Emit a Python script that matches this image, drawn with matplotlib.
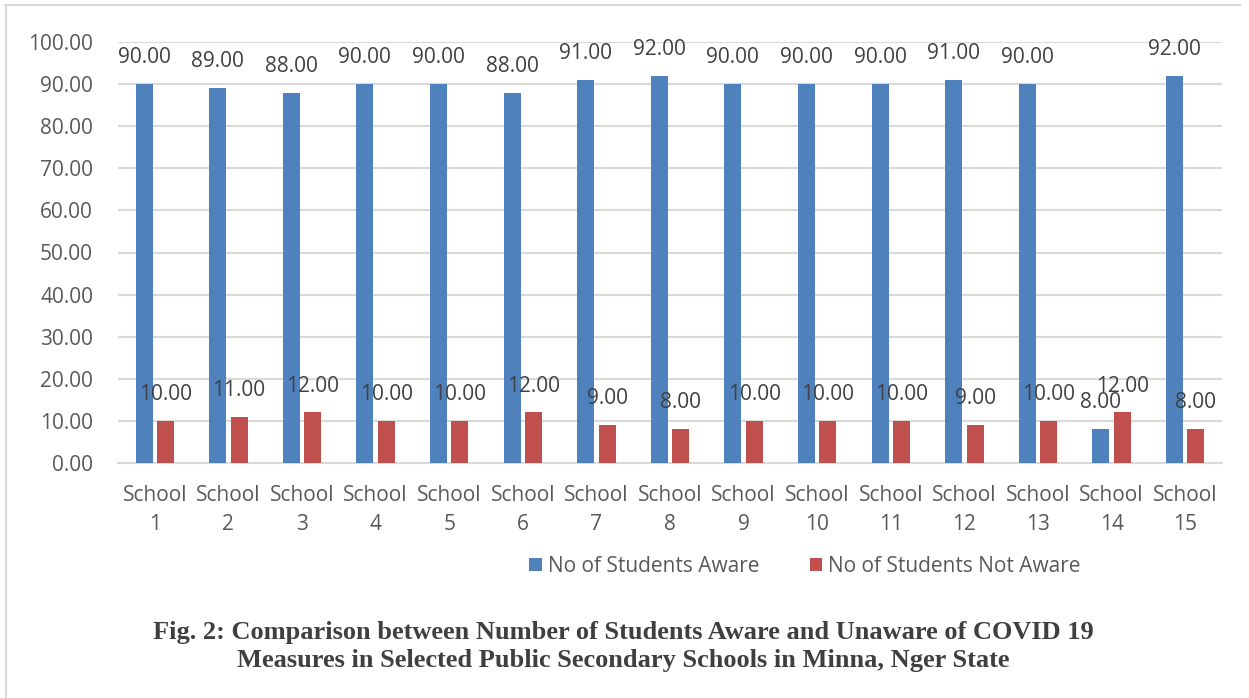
import numpy as np
import matplotlib
matplotlib.use("Agg")
import matplotlib.pyplot as plt
from matplotlib.lines import Line2D

# =====================
# Data
# =====================
schools = [f"School\n{i}" for i in range(1, 16)]
aware = [90, 89, 88, 90, 90, 88, 91, 92, 90, 90, 90, 91, 90, 8, 92]
not_aware = [10, 11, 12, 10, 10, 12, 9, 8, 10, 10, 10, 9, 10, 12, 8]
series_names = ["No of Students Aware", "No of Students Not Aware"]
yticks = np.arange(0, 101, 10)

BLUE = "#4F81BD"
RED = "#C0504D"
GRID = "#D9D9D9"
TICK_COL = "#595959"
LABEL_COL = "#404040"

plt.rcParams.update({
    "font.family": "Open Sans",
    "font.size": 15,
})

fig = plt.figure(figsize=(12.49, 6.98), dpi=100)
ax = fig.add_axes([118 / 1249, 1 - 463 / 698, (1222 - 118) / 1249, (463 - 42) / 698])

x = np.arange(len(schools))
w = 0.23
off = 0.145

b1 = ax.bar(x - off, aware, w, color=BLUE, label=series_names[0], zorder=3)
b2 = ax.bar(x + off, not_aware, w, color=RED, label=series_names[1], zorder=3)

for bars in (b1, b2):
    for rect in bars:
        h = rect.get_height()
        ax.annotate(f"{h:.2f}", (rect.get_x() + rect.get_width() / 2, h),
                    xytext=(0, 19), textcoords="offset points",
                    ha="center", va="center", fontsize=15, color=LABEL_COL, zorder=4)

ax.set_xlim(-0.5, len(schools) - 0.5)
ax.set_ylim(0, 100)
ax.set_yticks(yticks)
ax.set_yticklabels([f"{v:.2f}" for v in yticks])
ax.set_xticks(x)
ax.set_xticklabels(schools, linespacing=1.5)

ax.grid(axis="y", color=GRID, linewidth=1.5, zorder=0)
for s in ["top", "right", "left"]:
    ax.spines[s].set_visible(False)
ax.spines["bottom"].set_color(GRID)
ax.spines["bottom"].set_linewidth(1.5)
ax.tick_params(axis="both", length=0, colors=TICK_COL, labelsize=15)
ax.tick_params(axis="x", pad=16)
ax.tick_params(axis="y", pad=18)

leg = fig.legend(loc="center", bbox_to_anchor=(805 / 1249, 1 - 566 / 698), ncol=2,
                 frameon=False, handlelength=0.6, handleheight=0.6, handletextpad=0.3,
                 columnspacing=2.4, fontsize=15)
for t in leg.get_texts():
    t.set_color(TICK_COL)

# caption
fig.text(623 / 1249, 1 - 632 / 698,
         "Fig. 2: Comparison between Number of Students Aware and Unaware of COVID 19",
         ha="center", va="center", family="Liberation Serif", weight="bold",
         fontsize=19, color="#3F3F3F")
fig.text(623 / 1249, 1 - 660 / 698,
         "Measures in Selected Public Secondary Schools in Minna, Nger State",
         ha="center", va="center", family="Liberation Serif", weight="bold",
         fontsize=19, color="#3F3F3F")

# outer frame (top and left edges only visible)
fig.add_artist(Line2D([5 / 1249, 1240 / 1249], [1 - 5 / 698, 1 - 5 / 698],
                      transform=fig.transFigure, color=GRID, linewidth=1.5))
fig.add_artist(Line2D([5.5 / 1249, 5.5 / 1249], [1 - 5 / 698, 0],
                      transform=fig.transFigure, color=GRID, linewidth=1.5))

fig.savefig("out.png", dpi=100)
